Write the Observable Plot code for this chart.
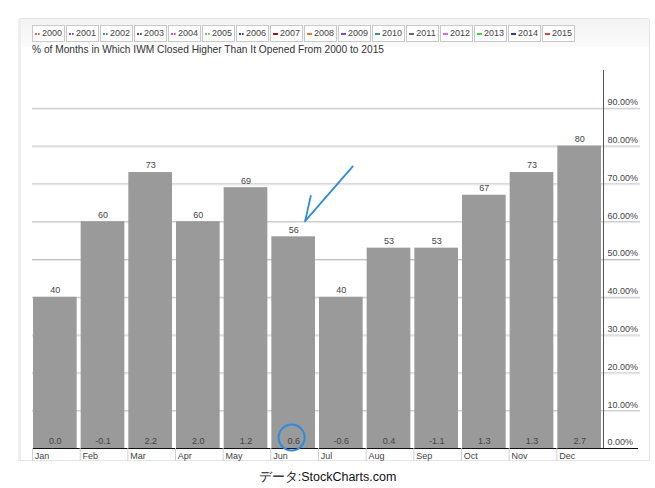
<!DOCTYPE html>
<html>
<head>
<meta charset="utf-8">
<script src="https://cdn.jsdelivr.net/npm/d3@7"></script>
<script src="https://cdn.jsdelivr.net/npm/@observablehq/plot@0.6"></script>
<style>
  html, body { margin: 0; padding: 0; background: #fff; }
  body { width: 655px; height: 488px; position: relative; overflow: hidden;
         font-family: "Liberation Sans", Arial, sans-serif; }
  #panel { position: absolute; left: 18px; top: 18px; width: 628px; height: 441px;
           border: 1px solid #e4e4e4; border-left: 3px solid #eeeeee; border-radius: 3px 3px 0 0; }
  #strip { position: absolute; left: 0; top: 0; right: 0; height: 28px;
           background: linear-gradient(#f3f3f3, #fbfbfb); }
  #legend { position: absolute; left: 32px; top: 25px; display: flex; gap: 1px; }
  .item { width: 31px; height: 15px; border: 1px solid #c9c9c9; background: #fff; box-sizing: content-box;
          font-size: 9px; line-height: 15px; color: #444; padding: 0; white-space: nowrap;
          display: flex; align-items: center; justify-content: center; }
  .mark { display: inline-block; width: 5px; height: 0; margin-right: 2px; }
  #title { position: absolute; left: 32px; top: 44px; font-size: 10.2px; color: #333; white-space: nowrap; }
  #chart { position: absolute; left: 0; top: 60px; }
  #caption { position: absolute; left: 0; width: 655px; top: 469px; text-align: center;
             font-size: 12.5px; color: #111; }
</style>
</head>
<body>
<div id="panel"><div id="strip"></div></div>
<div id="legend"></div>
<div id="title">% of Months in Which IWM Closed Higher Than It Opened From 2000 to 2015</div>
<div id="chart"></div>
<div id="caption">データ:StockCharts.com</div>
<script>
// Monthly IWM statistics, 2000–2015
const months = ["Jan", "Feb", "Mar", "Apr", "May", "Jun", "Jul", "Aug", "Sep", "Oct", "Nov", "Dec"];
const pctHigher = [40, 60, 73, 60, 69, 56, 40, 53, 53, 67, 73, 80];
const avgChange = ["0.0", "-0.1", "2.2", "2.0", "1.2", "0.6", "-0.6", "0.4", "-1.1", "1.3", "1.3", "2.7"];
const yTicks = [0, 10, 20, 30, 40, 50, 60, 70, 80, 90];

// Legend entries (one per year)
const years = [2000, 2001, 2002, 2003, 2004, 2005, 2006, 2007, 2008, 2009, 2010, 2011, 2012, 2013, 2014, 2015];
const yearColors = ["#e2683c", "#7a52c8", "#3d9aa3", "#4a4a4a", "#df46df", "#63c463", "#35389a", "#a3171b",
                    "#ef7436", "#8447df", "#3b8da6", "#676767", "#e065e0", "#45d045", "#353795", "#e23b3b"];
const yearDotted = [true, true, true, true, true, true, true, false, false, false, false, false, false, false, false, false];

// Hand-drawn callouts: arrow toward June's bar and a ring around its average change
const arrowPoints = [
  {month: "Jul", at: 0.75, value: 74.5},
  {month: "Jun", at: 0.75, value: 60},
  {month: "Jun", at: 0.87, value: 66.7}
];
const ringNote = [{month: "Jun", value: 2.9}];

// Legend
const legend = d3.select("#legend");
years.forEach((yr, i) => {
  const item = legend.append("div").attr("class", "item");
  item.append("span").attr("class", "mark")
    .style("border-top", yearDotted[i] ? `2px dotted ${yearColors[i]}` : `2px solid ${yearColors[i]}`);
  item.append("span").text(yr);
});

const data = months.map((m, i) => ({month: m, pct: pctHigher[i], avg: avgChange[i]}));

const chart = Plot.plot({
  width: 655,
  height: 402,
  marginLeft: 31,
  marginRight: 52,
  marginTop: 10,
  marginBottom: 14,
  x: {domain: months, padding: 0, round: false, axis: null},
  y: {domain: [0, 100], axis: null},
  style: {fontFamily: "'Liberation Sans', Arial, sans-serif", fontSize: "9px", background: "transparent", color: "#444"},
  marks: [
    // gridlines, extending into the right label area
    Plot.ruleY(yTicks.filter(d => d > 0), {stroke: "#c2c2c2", strokeWidth: 1, insetLeft: 1, insetRight: -37}),
    Plot.ruleY(yTicks.filter(d => d > 0), {stroke: "#e6e6e6", strokeWidth: 1, dy: 1, insetLeft: 1, insetRight: -37}),
    Plot.barY(data, {x: "month", y: "pct", fill: "#9a9a9a", insetLeft: 2, insetRight: 2}),
    // value above each bar
    Plot.text(data, {x: "month", y: "pct", text: d => String(d.pct), dy: -7, fill: "#444"}),
    // average change at the foot of each bar
    Plot.text(data, {x: "month", y: 0, text: "avg", dy: -7, fill: "#444"}),
    // baseline
    Plot.ruleY([0], {stroke: "#111", strokeWidth: 1, insetLeft: 1, insetRight: -35}),
    // category ticks and labels
    Plot.ruleX(months, {x: d => d, y1: 0, y2: 0, dx: -22.8, insetBottom: -13, stroke: "#cfcfcf"}),
    Plot.text(months, {x: d => d, y: 0, dx: -20.5, dy: 8, textAnchor: "start", fill: "#444"}),
    // right-hand percentage labels
    Plot.text(yTicks, {y: d => d, frameAnchor: "right", dx: 4, dy: -6, textAnchor: "start",
      text: d => d.toFixed(2) + "%", fill: "#444"}),
    Plot.dot(ringNote, {x: "month", y: "value", r: 13, dx: -2, stroke: "#2a8be6", strokeWidth: 2, fill: "none"}),
    (index, scales, values, dims) => {
      const {x, y} = scales;
      const g = d3.create("svg:g");
      const xr = dims.width - dims.marginRight;
      g.append("line")
        .attr("x1", xr + 0.5).attr("x2", xr + 0.5)
        .attr("y1", y(100)).attr("y2", y(0))
        .attr("stroke", "#555");
      const step = x.step ? x.step() : x.bandwidth();
      const pts = arrowPoints.map(p => [x(p.month) + p.at * step, y(p.value)]);
      g.append("path")
        .attr("d", d3.line()(pts))
        .attr("fill", "none")
        .attr("stroke", "#2a8be6")
        .attr("stroke-width", 1.8)
        .attr("stroke-linejoin", "round")
        .attr("stroke-linecap", "round");
      return g.node();
    }
  ]
});
document.getElementById("chart").append(chart);
</script>
</body>
</html>
